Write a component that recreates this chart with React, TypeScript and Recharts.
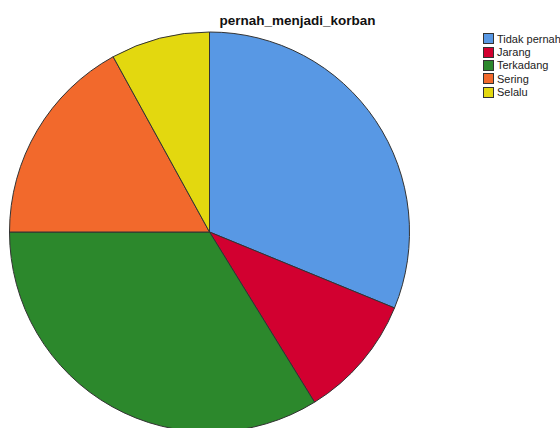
import React from "react";
import { PieChart, Pie, Cell, Legend } from "recharts";

const categories = ["Tidak pernah", "Jarang", "Terkadang", "Sering", "Selalu"];
const percents = [31.2, 10.0, 33.8, 17.0, 8.0];
const colors = ["#5898E4", "#D20030", "#2C882C", "#F2692C", "#E3D80F"];

const data = categories.map((name, i) => ({ name, value: percents[i] }));

const font = "'Liberation Sans', Arial, sans-serif";

const LegendBox = () => (
  <div style={{ fontFamily: font, fontSize: 11, color: "#222" }}>
    {categories.map((c, i) => (
      <div key={c} style={{ display: "flex", alignItems: "center", height: 13.4 }}>
        <span
          style={{
            width: 9,
            height: 9,
            background: colors[i],
            border: "1px solid #333",
            marginRight: 3,
            display: "inline-block",
          }}
        />
        <span>{c}</span>
      </div>
    ))}
  </div>
);

export default function App() {
  return (
    <div style={{ position: "absolute", left: 0, top: 0, width: 560, height: 428, background: "#fff", overflow: "hidden" }}>
      <div
        style={{
          position: "absolute",
          left: 0,
          width: 595,
          top: 13,
          textAlign: "center",
          fontFamily: font,
          fontWeight: "bold",
          fontSize: 13.5,
          color: "#111",
        }}
      >
        pernah_menjadi_korban
      </div>
      <PieChart width={560} height={428} margin={{ top: 0, right: 0, bottom: 0, left: 0 }}>
        <Pie
          data={data}
          dataKey="value"
          nameKey="name"
          cx={209.5}
          cy={232}
          outerRadius={200}
          startAngle={90}
          endAngle={-270}
          stroke="#333"
          strokeWidth={1}
          isAnimationActive={false}
          label={false}
          labelLine={false}
        >
          {data.map((d, i) => (
            <Cell key={d.name} fill={colors[i]} />
          ))}
        </Pie>
        <Legend
          layout="vertical"
          align="right"
          verticalAlign="top"
          content={<LegendBox />}
          wrapperStyle={{ left: 483, top: 32, width: 80 }}
        />
      </PieChart>
    </div>
  );
}
